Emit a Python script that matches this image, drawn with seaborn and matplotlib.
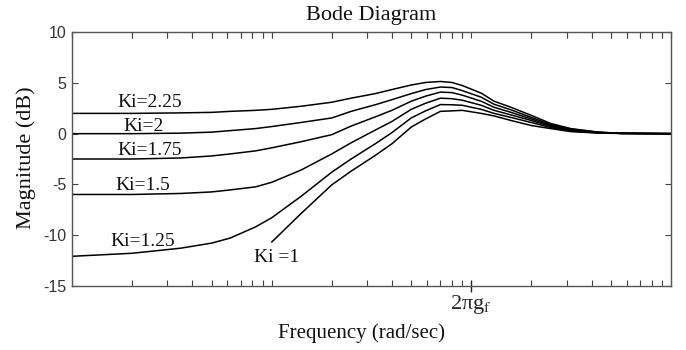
import numpy as np
import pandas as pd
import matplotlib
matplotlib.use("Agg")
import matplotlib.pyplot as plt
from matplotlib.ticker import LogLocator, NullFormatter, FixedLocator, FixedFormatter
import seaborn as sns

# ---- data (frequency normalised so that 2*pi*g_f = 1 rad/s) ----
freq = [0.01, 0.02, 0.035, 0.05, 0.062, 0.083, 0.1, 0.14, 0.2, 0.25, 0.33, 0.4, 0.5,
        0.59, 0.7, 0.8, 0.9, 1.12, 1.3, 1.58, 2.0, 2.5, 3.15, 4.3, 5.6, 10.0]
mag_ki225 = [2.0, 2.0, 2.05, 2.1, 2.2, 2.3, 2.4, 2.7, 3.1, 3.5, 3.95, 4.35, 4.8,
             5.05, 5.15, 5.05, 4.75, 4.0, 3.2, 2.6, 1.8, 1.0, 0.5, 0.16, 0.03, 0.0]
mag_ki200 = [0.0, 0.0, 0.05, 0.15, 0.3, 0.5, 0.7, 1.1, 1.55, 2.2, 2.85, 3.35, 3.95,
             4.35, 4.6, 4.55, 4.25, 3.6, 2.9, 2.35, 1.6, 0.9, 0.45, 0.14, 0.03, 0.0]
mag_ki175 = [-2.5, -2.5, -2.4, -2.2, -2.0, -1.7, -1.4, -0.8, -0.1, 0.75, 1.65, 2.3, 3.2,
             3.7, 4.1, 4.05, 3.8, 3.2, 2.6, 2.1, 1.45, 0.8, 0.4, 0.12, 0.03, 0.0]
mag_ki150 = [-6.0, -6.0, -5.9, -5.75, -5.55, -5.25, -4.8, -3.6, -2.0, -0.9, 0.35, 1.2, 2.4,
             3.0, 3.5, 3.45, 3.3, 2.8, 2.3, 1.85, 1.3, 0.7, 0.33, 0.1, 0.03, 0.0]
mag_ki125 = [-12.1, -11.8, -11.3, -10.8, -10.3, -9.2, -8.3, -6.2, -3.8, -2.5, -1.0, 0.1, 1.55,
             2.25, 2.87, 2.85, 2.8, 2.4, 2.0, 1.6, 1.1, 0.6, 0.27, 0.08, 0.03, 0.0]
freq_ki100 = [0.1, 0.14, 0.2, 0.25, 0.33, 0.4, 0.5, 0.59, 0.7, 0.8, 0.9, 1.12, 1.3,
              1.58, 2.0, 2.5, 3.15, 4.3, 5.6, 10.0]
mag_ki100 = [-10.7, -7.9, -5.05, -3.7, -2.15, -1.0, 0.65, 1.45, 2.2, 2.25, 2.3, 2.0, 1.75,
             1.3, 0.8, 0.5, 0.2, 0.06, 0.02, 0.0]

curve_names = ["Ki=2.25", "Ki=2", "Ki=1.75", "Ki=1.5", "Ki=1.25", "Ki =1"]
label_x = [0.0169, 0.0181, 0.0169, 0.0165, 0.0156, 0.0813]
label_y = [2.65, 0.27, -2.1, -5.57, -11.1, -12.67]

yticks = [-15, -10, -5, 0, 5, 10]
xtick_label = r"2πg$_{\mathrm{f}}$"

series = [(freq, mag_ki225), (freq, mag_ki200), (freq, mag_ki175),
          (freq, mag_ki150), (freq, mag_ki125), (freq_ki100, mag_ki100)]
frames = []
for name, (f, m) in zip(curve_names, series):
    frames.append(pd.DataFrame({"freq": f, "mag": m, "Ki": name}))
df = pd.concat(frames, ignore_index=True)

sns.set_style("white")
plt.rcParams["font.family"] = ["Liberation Serif", "DejaVu Serif"]
plt.rcParams["mathtext.fontset"] = "stix"

fig = plt.figure(figsize=(6.86, 3.5), dpi=100)
ax = fig.add_axes([72 / 686, 1 - 285.7 / 350, 599 / 686, 253.4 / 350])

sns.lineplot(data=df, x="freq", y="mag", units="Ki", estimator=None,
             color="black", linewidth=1.1, legend=False, ax=ax, sort=False)

ax.set_xscale("log")
ax.set_xlim(0.01, 10)
ax.set_ylim(-15, 10)

# y ticks
ax.set_yticks(yticks)
ax.set_yticklabels([str(t) for t in yticks], family="Liberation Sans", fontsize=11.5, color="#333333")
ax.tick_params(axis="y", which="both", direction="in", length=4, width=0.8,
               left=True, right=True, pad=4, color="#444444")

# x ticks: one labelled major tick, log minor ticks
ax.xaxis.set_major_locator(FixedLocator([1.0]))
ax.xaxis.set_major_formatter(FixedFormatter([xtick_label]))
ax.xaxis.set_minor_locator(LogLocator(base=10, subs=np.arange(1, 10), numticks=20))
ax.xaxis.set_minor_formatter(NullFormatter())
ax.tick_params(axis="x", which="major", direction="inout", length=9, width=1.0,
               top=False, bottom=True, labelsize=16, pad=1, color="#222222")
ax.tick_params(axis="x", which="minor", direction="in", length=4, width=0.8,
               top=True, bottom=True, color="#444444")

secax = ax.secondary_xaxis("top")
secax.xaxis.set_major_locator(FixedLocator([1.0]))
secax.xaxis.set_major_formatter(NullFormatter())
secax.xaxis.set_minor_locator(LogLocator(base=10, subs=np.arange(1, 10), numticks=20))
secax.xaxis.set_minor_formatter(NullFormatter())
secax.tick_params(axis="x", which="both", direction="in", length=4, width=0.8, color="#444444")
secax.spines["top"].set_visible(False)

for sp in ax.spines.values():
    sp.set_color("#555555")
    sp.set_linewidth(1.0)

for name, lx, ly in zip(curve_names, label_x, label_y):
    ax.text(lx, ly, name, fontsize=14, ha="left", va="baseline", color="#111111")

ax.set_title("Bode Diagram", fontsize=16, pad=9, color="#111111")
ax.set_xlabel("Frequency (rad/sec)", fontsize=15, color="#111111")
ax.set_ylabel("Magnitude (dB)", fontsize=16, color="#111111")
ax.xaxis.set_label_coords(0.484, -0.15)
ax.yaxis.set_label_coords(-0.06, 0.504)

fig.savefig("out.png", dpi=100)
